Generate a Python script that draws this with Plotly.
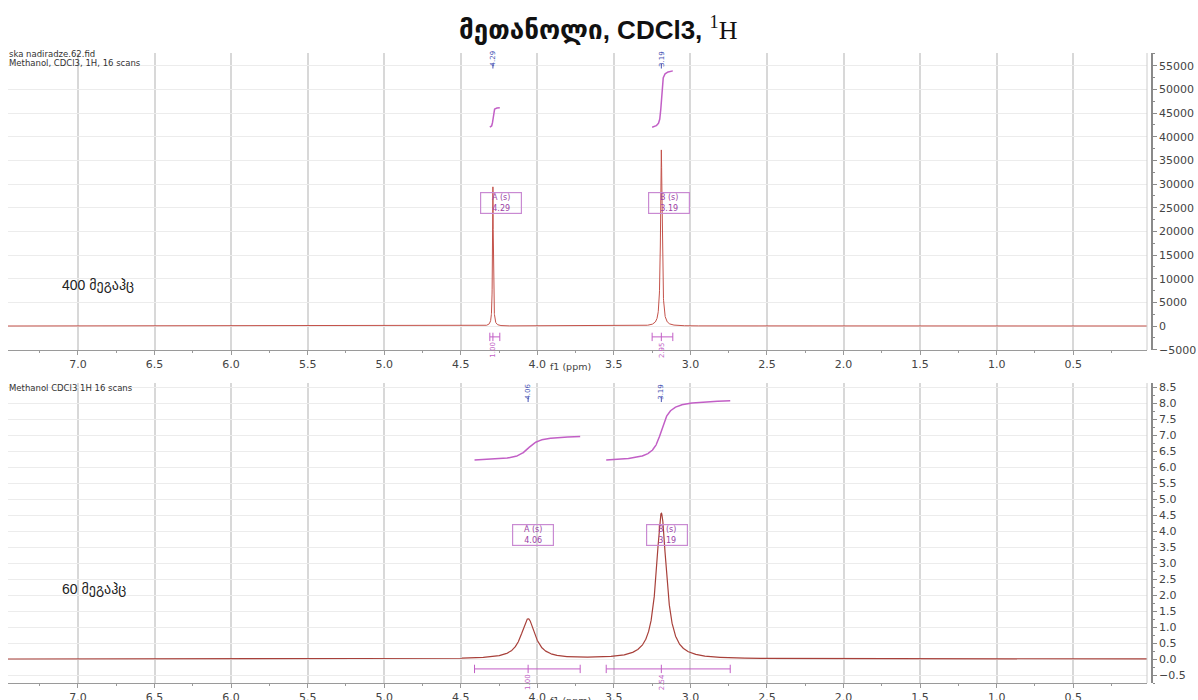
import numpy as np
import plotly.graph_objects as go

# ---------------- data ----------------
title_text = "მეთანოლი, CDCl3, "
top_label = "400 მეგაჰც"
bottom_label = "60 მეგაჰც"

x_ticks = [7.0, 6.5, 6.0, 5.5, 5.0, 4.5, 4.0, 3.5, 3.0, 2.5, 2.0, 1.5, 1.0, 0.5]

# 400 MHz spectrum: peak shifts (ppm), heights, half widths (ppm)
top_names = ["A (s)", "B (s)"]
top_shifts = [4.29, 3.19]
top_heights = [29400, 37200]
top_widths = [0.003, 0.006]
top_int_regions = [[4.31, 4.245], [3.25, 3.115]]
top_int_base = 42000
top_int_rise = [4100, 11900]
top_int_values = ["1.00", "2.95"]

# 60 MHz spectrum
bot_names = ["A (s)", "B (s)"]
bot_shifts = [4.06, 3.19]
bot_heights = [1.25, 4.55]
bot_widths = [0.055, 0.04]
bot_int_regions = [[4.41, 3.72], [3.55, 2.74]]
bot_int_base = 6.22
bot_int_rise = [0.73, 1.85]
bot_int_values = ["1.00", "2.54"]

# ---------------- helpers ----------------
W, H = 1198, 700
def fx(p):
    return p / W
def fy(p):
    return 1 - p / H

ppm = np.linspace(7.46, 0.0, 14921)

def lorentz(x, x0, h, g):
    return h * g * g / ((x - x0) ** 2 + g * g)

def spectrum(shifts, heights, widths):
    y = np.zeros_like(ppm)
    for s, h, g in zip(shifts, heights, widths):
        y += lorentz(ppm, s, h, g)
    return y

def integral_curve(region, x0, g, base, rise):
    xs = np.linspace(region[0], region[1], 400)
    F = np.arctan((x0 - xs) / g)
    n = (F - F[0]) / (F[-1] - F[0])
    return xs, base + rise * n

SPEC_COLOR = "#c4524a"
INT_COLOR = "#c25fc6"
LBL_COLOR = "#9b3fa6"
SHIFT_COLOR = "#4a55b5"
FONT = "DejaVu Sans"

fig = go.Figure()

# top spectrum
fig.add_trace(go.Scatter(x=ppm, y=spectrum(top_shifts, top_heights, top_widths),
                         mode="lines", line=dict(color=SPEC_COLOR, width=1),
                         xaxis="x", yaxis="y", hoverinfo="skip"))
# bottom spectrum
fig.add_trace(go.Scatter(x=ppm, y=spectrum(bot_shifts, bot_heights, bot_widths),
                         mode="lines", line=dict(color="#a8403a", width=1.2),
                         xaxis="x2", yaxis="y2", hoverinfo="skip"))

annotations = []
shapes = []

def add_panel_decor(shifts, heights, widths, names, regions, base, rises, values,
                    xa, ya, box_y, box_dx, shift_lbl_y, tick_y0, tick_y1, bar_y, val_y):
    for s, g, nm, reg, rise, val in zip(shifts, widths, names, regions, rises, values):
        xs, ys = integral_curve(reg, s, g, base, rise)
        fig.add_trace(go.Scatter(x=xs, y=ys, mode="lines",
                                 line=dict(color=INT_COLOR, width=1.5),
                                 xaxis=xa, yaxis=ya, hoverinfo="skip"))
        # integration bar
        fig.add_trace(go.Scatter(x=[reg[0], s, reg[1]], y=[bar_y, bar_y, bar_y],
                                 mode="lines+markers",
                                 line=dict(color=INT_COLOR, width=1),
                                 marker=dict(symbol="line-ns-open", size=6,
                                             color=INT_COLOR, line=dict(width=1, color=INT_COLOR)),
                                 xaxis=xa, yaxis=ya, hoverinfo="skip"))
        annotations.append(dict(x=s, y=val_y, xref=xa, yref=ya, text=val, showarrow=False,
                                textangle=-90, yanchor="top",
                                font=dict(size=7, color=INT_COLOR, family=FONT)))
        # peak label box
        annotations.append(dict(x=s - box_dx, y=box_y, xref=xa, yref=ya,
                                text=nm + "<br>" + f"{s:.2f}", showarrow=False,
                                font=dict(size=8, color=LBL_COLOR, family=FONT),
                                bordercolor="#c98ad2", borderwidth=1.2, borderpad=0,
                                width=40,
                                bgcolor="rgba(255,255,255,0)", align="center"))
        # chemical shift label at top
        annotations.append(dict(x=s, y=shift_lbl_y, xref=xa, yref=ya, text=f"{s:.2f}",
                                showarrow=False, textangle=-90,
                                font=dict(size=7, color=SHIFT_COLOR, family=FONT)))
        shapes.append(dict(type="line", xref=xa, yref=ya, x0=s, x1=s, y0=tick_y0, y1=tick_y1,
                           line=dict(color=SHIFT_COLOR, width=1)))

add_panel_decor(top_shifts, top_heights, top_widths, top_names, top_int_regions,
                top_int_base, top_int_rise, top_int_values, "x", "y",
                box_y=26000, box_dx=0.05, shift_lbl_y=56500, tick_y0=55500, tick_y1=54400,
                bar_y=-2300, val_y=-2900)
add_panel_decor(bot_shifts, bot_heights, bot_widths, bot_names, bot_int_regions,
                bot_int_base, bot_int_rise, bot_int_values, "x2", "y2",
                box_y=3.87, box_dx=0.035, shift_lbl_y=8.36, tick_y0=8.19, tick_y1=8.03,
                bar_y=-0.31, val_y=-0.40)

# text annotations (paper)
def ptext(x, y, text, size, color="#333", xanchor="left", family=FONT):
    annotations.append(dict(x=fx(x), y=fy(y), xref="paper", yref="paper", text=text,
                            showarrow=False, xanchor=xanchor, yanchor="middle",
                            font=dict(size=size, color=color, family=family)))

ptext(7, 54.5, "ska nadiradze.62.fid", 8.5)
ptext(7, 63, "Methanol, CDCl3, 1H, 16 scans", 8.5)
ptext(7, 388, "Methanol CDCl3 1H 16 scans", 8.5)
ptext(60, 285, top_label, 14, "#222", family="Liberation Sans, DejaVu Sans")
ptext(60, 589, bottom_label, 14, "#222", family="Liberation Sans, DejaVu Sans")
ptext(570, 366, "f1 (ppm)", 9.5, "#444", xanchor="center")
ptext(570, 701, "f1 (ppm)", 9.5, "#444", xanchor="center")
annotations.append(dict(x=fx(598), y=fy(28), xref="paper", yref="paper",
                        text="<b>" + title_text + "</b><span style='font-family:Liberation Serif'><sup>1</sup>H</span>",
                        showarrow=False, xanchor="center", yanchor="middle",
                        font=dict(size=26, color="#111", family="Liberation Sans, DejaVu Sans")))

# frame lines at the right edge of plot areas
for (y0, y1) in [(53, 350), (383, 683)]:
    shapes.append(dict(type="line", xref="paper", yref="paper", x0=fx(1147), x1=fx(1147),
                       y0=fy(y0), y1=fy(y1), line=dict(color="#cccccc", width=1)))

xcommon = dict(tickmode="array", tickvals=x_ticks, ticktext=[f"{v:.1f}" for v in x_ticks],
               showgrid=True, gridcolor="#d8d8d8", gridwidth=1.5, zeroline=False,
               showline=True, linecolor="#9a9a9a", linewidth=1,
               ticks="outside", ticklen=4, tickcolor="#9a9a9a",
               minor=dict(tickmode="linear", tick0=0, dtick=0.25, ticks="outside",
                          ticklen=2, tickcolor="#9a9a9a", showgrid=False),
               tickfont=dict(size=11, color="#444", family=FONT),
               range=[7.457, 0.018], automargin=False)

ycommon = dict(side="right", anchor="free", position=fx(1152), showgrid=True,
               gridcolor="#ececec", gridwidth=1, zeroline=False, showline=True,
               linecolor="#8a8a8a", linewidth=1.5, ticks="outside", ticklen=4,
               tickcolor="#8a8a8a", tickfont=dict(size=11, color="#444", family=FONT),
               automargin=False)

fig.update_layout(
    width=W, height=H, margin=dict(l=0, r=0, t=0, b=0),
    paper_bgcolor="white", plot_bgcolor="white", showlegend=False,
    template="none",
    xaxis=dict(domain=[fx(8), fx(1147)], anchor="y", **xcommon),
    yaxis=dict(domain=[fy(350), fy(53)], range=[-5070, 57680], tickmode="linear", tick0=0,
               dtick=5000, tickformat="d",
               minor=dict(tickmode="linear", tick0=0, dtick=2500, ticks="outside", ticklen=2,
                          tickcolor="#8a8a8a", showgrid=False), **ycommon),
    xaxis2=dict(domain=[fx(8), fx(1147)], anchor="y2", **xcommon),
    yaxis2=dict(domain=[fy(683), fy(383)], range=[-0.75, 8.625], tickmode="linear", tick0=0,
                dtick=0.5, tickformat=".1f",
                minor=dict(tickmode="linear", tick0=0, dtick=0.25, ticks="outside", ticklen=2,
                           tickcolor="#8a8a8a", showgrid=False), **ycommon),
    annotations=annotations, shapes=shapes,
)

fig.write_html("out.html", config={"displayModeBar": False},
               post_script="document.body.style.margin='0';document.body.style.overflow='hidden';")
